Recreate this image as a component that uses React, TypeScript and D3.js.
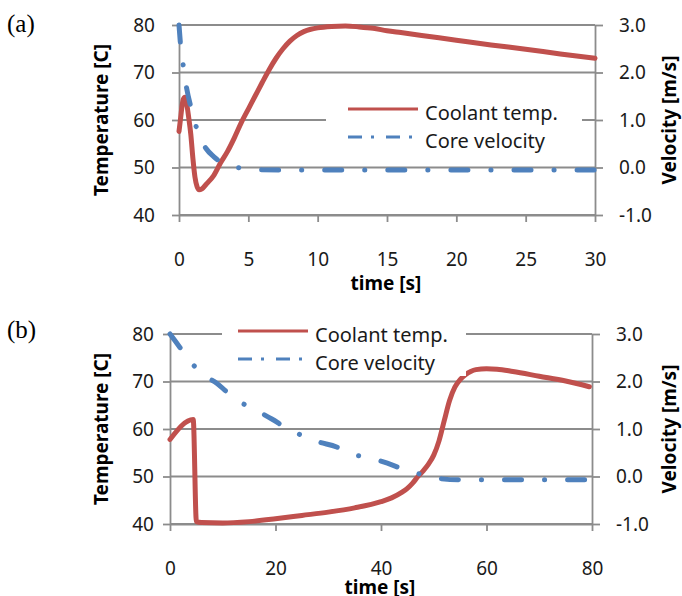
import React, { useEffect, useRef } from "react";
import * as d3 from "d3";

const RED = "#C0504D";
const BLUE = "#4F81BD";
const GRID = "#8c8c8c";
const FONT = "'Noto Sans', sans-serif";

// (a) values
const timeA = [0, 0.1, 0.2, 0.3, 0.43, 0.55, 0.7, 0.85, 1.0, 1.15, 1.3, 1.45, 1.65, 2, 2.5, 3, 3.5, 4, 4.5, 5, 5.5, 6, 6.5, 7, 7.5, 8, 8.5, 9, 9.5, 10, 11, 12, 13, 14, 15, 16, 17.5, 20, 22.5, 25, 27.5, 30];
const tempA = [57.6, 60, 62.5, 64.3, 64.8, 63.5, 60.5, 57, 52, 48, 46, 45.3, 45.5, 46.6, 48.3, 51, 53.4, 56.3, 59.5, 62.3, 65.1, 67.9, 70.6, 73, 75, 76.6, 77.8, 78.6, 79.1, 79.4, 79.7, 79.8, 79.6, 79.3, 78.8, 78.4, 77.8, 76.8, 75.8, 74.9, 73.9, 73.0];
const velTimeA = [0, 0.1, 0.3, 0.55, 0.85, 1.25, 1.6, 1.95, 2.5, 3, 3.5, 4.2, 5, 6, 30];
const velA = [3.0, 2.62, 2.16, 1.67, 1.28, 0.85, 0.58, 0.4, 0.23, 0.12, 0.06, 0.0, -0.03, -0.05, -0.05];

// (b)
const timeB = [0, 4.4, 5.0, 6, 10, 15, 20, 25, 30, 35, 40, 42, 44, 45, 46, 47, 48, 49, 50, 51, 52, 53, 54, 55, 56, 57, 58, 60, 62, 65, 70, 75, 79.5];
const tempB = [57.8, 62, 40.5, 40.3, 40.2, 40.5, 41.1, 41.8, 42.5, 43.4, 44.7, 45.5, 46.7, 47.5, 48.6, 50, 51.2, 52.6, 54.5, 57.5, 61.8, 66.0, 68.8, 70.4, 71.4, 72.1, 72.5, 72.7, 72.6, 72.1, 71.1, 70.1, 68.9];
const velTimeB = [0, 2, 3.8, 6.3, 8.8, 11.2, 13.6, 16.4, 19.3, 22.1, 24.9, 28.1, 31.6, 34, 37.8, 41.2, 44.1, 47.4, 51.5, 55, 79];
const velB = [3.0, 2.7, 2.43, 2.14, 1.97, 1.74, 1.55, 1.39, 1.21, 1.02, 0.87, 0.73, 0.62, 0.49, 0.39, 0.28, 0.16, 0.05, -0.05, -0.07, -0.07];

const tempTicks = [40, 50, 60, 70, 80];
const velTicks = [-1, 0, 1, 2, 3];
const xTicksA = [0, 5, 10, 15, 20, 25, 30];
const xTicksB = [0, 20, 40, 60, 80];
const legendLabels = ["Coolant temp.", "Core velocity"];

const panels = [
  {
    tag: "(a)", tagY: 32, time: timeA, temp: tempA, velTime: velTimeA, vel: velA,
    xDomain: [0, 30], xTicks: xTicksA,
    left: 179, right: 595, top: 25, bottom: 215,
    leftPad: 17, xLabelBase: 266, xTitle: [386, 290],
    legend: { x: 326, y: 94, w: 256, h: 60, lx: 348, ly: 109 },
  },
  {
    tag: "(b)", tagY: 338, time: timeB, temp: tempB, velTime: velTimeB, vel: velB,
    xDomain: [0, 80], xTicks: xTicksB,
    left: 170, right: 592, top: 334, bottom: 524,
    leftPad: 9, xLabelBase: 575, xTitle: [380, 594],
    legend: { x: 222, y: 316, w: 244, h: 60, lx: 238, ly: 331 },
  },
];

function styleAxis(g) {
  g.select(".domain").attr("stroke", GRID).attr("stroke-width", 1.8);
  g.selectAll(".tick line").attr("stroke", GRID).attr("stroke-width", 1.8);
  g.selectAll("text")
    .attr("font-family", FONT)
    .attr("font-size", 19)
    .attr("fill", "#1a1a1a");
}

function drawPanel(svg, p) {
  const x = d3.scaleLinear().domain(p.xDomain).range([p.left, p.right]);
  const yT = d3.scaleLinear().domain([40, 80]).range([p.bottom, p.top]);
  const yV = d3.scaleLinear().domain([-1, 3]).range([p.bottom, p.top]);
  const g = svg.append("g");

  g.append("text")
    .attr("x", 7)
    .attr("y", p.tagY)
    .attr("font-family", "'Liberation Serif', 'Times New Roman', serif")
    .attr("font-size", 25)
    .text(p.tag);

  // horizontal gridlines
  g.selectAll("line.grid")
    .data(tempTicks)
    .join("line")
    .attr("class", "grid")
    .attr("x1", p.left)
    .attr("x2", p.right)
    .attr("y1", (d) => yT(d))
    .attr("y2", (d) => yT(d))
    .attr("stroke", GRID)
    .attr("stroke-width", 1.8);

  const ax = g
    .append("g")
    .attr("transform", `translate(0,${p.bottom})`)
    .call(d3.axisBottom(x).tickValues(p.xTicks).tickSizeInner(7).tickSizeOuter(0));
  styleAxis(ax);
  ax.selectAll("text").attr("y", p.xLabelBase - p.bottom).attr("dy", 0);

  const al = g
    .append("g")
    .attr("transform", `translate(${p.left},0)`)
    .call(d3.axisLeft(yT).tickValues(tempTicks).tickSizeInner(7).tickSizeOuter(0).tickPadding(p.leftPad));
  styleAxis(al);

  const ar = g
    .append("g")
    .attr("transform", `translate(${p.right},0)`)
    .call(
      d3.axisRight(yV).tickValues(velTicks).tickFormat((d) => d.toFixed(1))
        .tickSizeInner(8).tickSizeOuter(0).tickPadding(16)
    );
  styleAxis(ar);

  // series
  const tempLine = d3.line().x((d) => x(d[0])).y((d) => yT(d[1])).curve(d3.curveMonotoneX);
  const velLine = d3.line().x((d) => x(d[0])).y((d) => yV(d[1])).curve(d3.curveMonotoneX);

  g.append("path")
    .datum(d3.zip(p.time, p.temp))
    .attr("fill", "none")
    .attr("stroke", RED)
    .attr("stroke-width", 5)
    .attr("stroke-linejoin", "round")
    .attr("stroke-linecap", "round")
    .attr("d", tempLine);

  g.append("path")
    .datum(d3.zip(p.velTime, p.vel))
    .attr("fill", "none")
    .attr("stroke", BLUE)
    .attr("stroke-width", 5)
    .attr("stroke-linecap", "round")
    .attr("stroke-dasharray", "17 23 0.1 23")
    .attr("d", velLine);

  // axis titles
  g.append("text")
    .attr("transform", `translate(108,${(p.top + p.bottom) / 2}) rotate(-90)`)
    .attr("text-anchor", "middle")
    .attr("font-family", FONT)
    .attr("font-weight", "bold")
    .attr("font-size", 19)
    .text("Temperature [C]");
  g.append("text")
    .attr("transform", `translate(676,${(p.top + p.bottom) / 2}) rotate(-90)`)
    .attr("text-anchor", "middle")
    .attr("font-family", FONT)
    .attr("font-weight", "bold")
    .attr("font-size", 19)
    .text("Velocity [m/s]");
  g.append("text")
    .attr("x", p.xTitle[0])
    .attr("y", p.xTitle[1])
    .attr("text-anchor", "middle")
    .attr("font-family", FONT)
    .attr("font-weight", "bold")
    .attr("font-size", 19)
    .text("time [s]");

  // legend
  const L = p.legend;
  const lg = g.append("g");
  lg.append("rect").attr("x", L.x).attr("y", L.y).attr("width", L.w).attr("height", L.h).attr("fill", "#fff");
  legendLabels.forEach((label, i) => {
    const yy = L.ly + i * 28;
    lg.append("line")
      .attr("x1", L.lx)
      .attr("x2", L.lx + 70)
      .attr("y1", yy)
      .attr("y2", yy)
      .attr("stroke", i === 0 ? RED : BLUE)
      .attr("stroke-width", 3.2)
      .attr("stroke-dasharray", i === 0 ? null : "14 9 3 12");
    lg.append("text")
      .attr("x", L.lx + 77)
      .attr("y", yy + 11)
      .attr("font-family", FONT)
      .attr("font-size", 20)
      .attr("fill", "#1a1a1a")
      .text(label);
  });
}

const App = () => {
  const svgEl = useRef(null);

  useEffect(() => {
    if (!svgEl.current) return;
    const svg = d3.select(svgEl.current);
    svg.selectAll("*").remove();
    panels.forEach((p) => drawPanel(svg, p));
  }, []);

  return (
    <svg
      ref={svgEl}
      width={682}
      height={596}
      style={{ position: "absolute", left: 0, top: 0, background: "#fff" }}
    />
  );
};

export default App;
